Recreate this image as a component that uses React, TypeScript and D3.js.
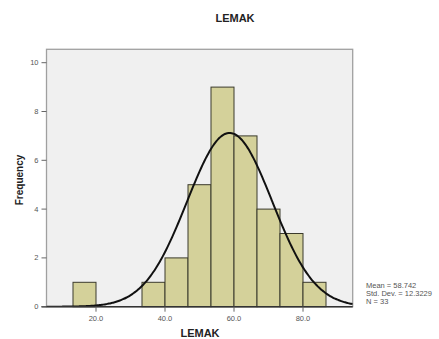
import React from "react";
import * as d3 from "d3";

const binStarts = [13.333, 20, 26.667, 33.333, 40, 46.667, 53.333, 60, 66.667, 73.333, 80];
const binWidth = 20 / 3;
const counts = [1, 0, 0, 1, 2, 5, 9, 7, 4, 3, 1];
const yTicks = [0, 2, 4, 6, 8, 10];
const xTicks = [20, 40, 60, 80];
const mean = 58.742;
const sd = 12.3229;
const n = 33;
const statLines = ["Mean = 58.742", "Std. Dev. = 12.3229", "N = 33"];

export default function App() {
  const W = 439, H = 339;
  const x = d3.scaleLinear().domain([0, 20]).range([27, 96]);
  const y = d3.scaleLinear().domain([0, 10]).range([306.7, 62.7]);
  const left = 46.5, right = 352.7, top = 49.3, bottom = y(0);
  const xMin = x.invert(left), xMax = x.invert(right);
  const pts = d3.range(0, 201).map(i => {
    const v = xMin + (xMax - xMin) * i / 200;
    const d = n * binWidth * Math.exp(-0.5 * ((v - mean) / sd) ** 2) / (sd * Math.sqrt(2 * Math.PI));
    return [v, d] as [number, number];
  });
  const line = d3.line<[number, number]>().x(d => x(d[0])).y(d => y(d[1])).curve(d3.curveBasis);
  const font = "Arial, 'Liberation Sans', sans-serif";
  return (
    <svg width={W} height={H} style={{ position: "absolute", left: 0, top: 0 }} fontFamily={font}>
      <rect x={0} y={0} width={W} height={H} fill="#fff" />
      <text x={235} y={22} textAnchor="middle" fontWeight="bold" fontSize={11} fill="#222">LEMAK</text>
      <rect x={left} y={top} width={right - left} height={bottom - top} fill="#f0f0f0" stroke="#a0a0a0" strokeWidth={1.3} />
      {counts.map((c, i) => c > 0 ? (
        <rect key={i} x={x(binStarts[i])} y={y(c)} width={x(binStarts[i] + binWidth) - x(binStarts[i])} height={y(0) - y(c)}
          fill="#d4d19a" stroke="#3b3a2c" strokeWidth={1} />
      ) : null)}
      <clipPath id="clip"><rect x={left} y={top} width={right - left} height={bottom - top} /></clipPath>
      <path d={line(pts) || ""} fill="none" stroke="#111" strokeWidth={2} clipPath="url(#clip)" />
      <line x1={left - 5} x2={right} y1={bottom} y2={bottom} stroke="#333" strokeWidth={1.5} />
      {yTicks.map(t => (
        <g key={t}>
          <line x1={left - 5} x2={left} y1={y(t)} y2={y(t)} stroke="#666" strokeWidth={1} />
          <text x={left - 8} y={y(t) + 2.5} textAnchor="end" fontSize={7.5} fill="#555">{t}</text>
        </g>
      ))}
      {xTicks.map(t => (
        <g key={t}>
          <line x1={x(t)} x2={x(t)} y1={bottom} y2={bottom + 5} stroke="#666" strokeWidth={1} />
          <text x={x(t)} y={320.5} textAnchor="middle" fontSize={7.5} fill="#555">{t.toFixed(1)}</text>
        </g>
      ))}
      <text x={200} y={337} textAnchor="middle" fontWeight="bold" fontSize={11} fill="#222">LEMAK</text>
      <text transform={`translate(23,180) rotate(-90)`} textAnchor="middle" fontWeight="bold" fontSize={10} fill="#222">Frequency</text>
      {statLines.map((s, i) => (
        <text key={i} x={366} y={287.5 + i * 8} fontSize={7.5} fill="#555">{s}</text>
      ))}
    </svg>
  );
}
